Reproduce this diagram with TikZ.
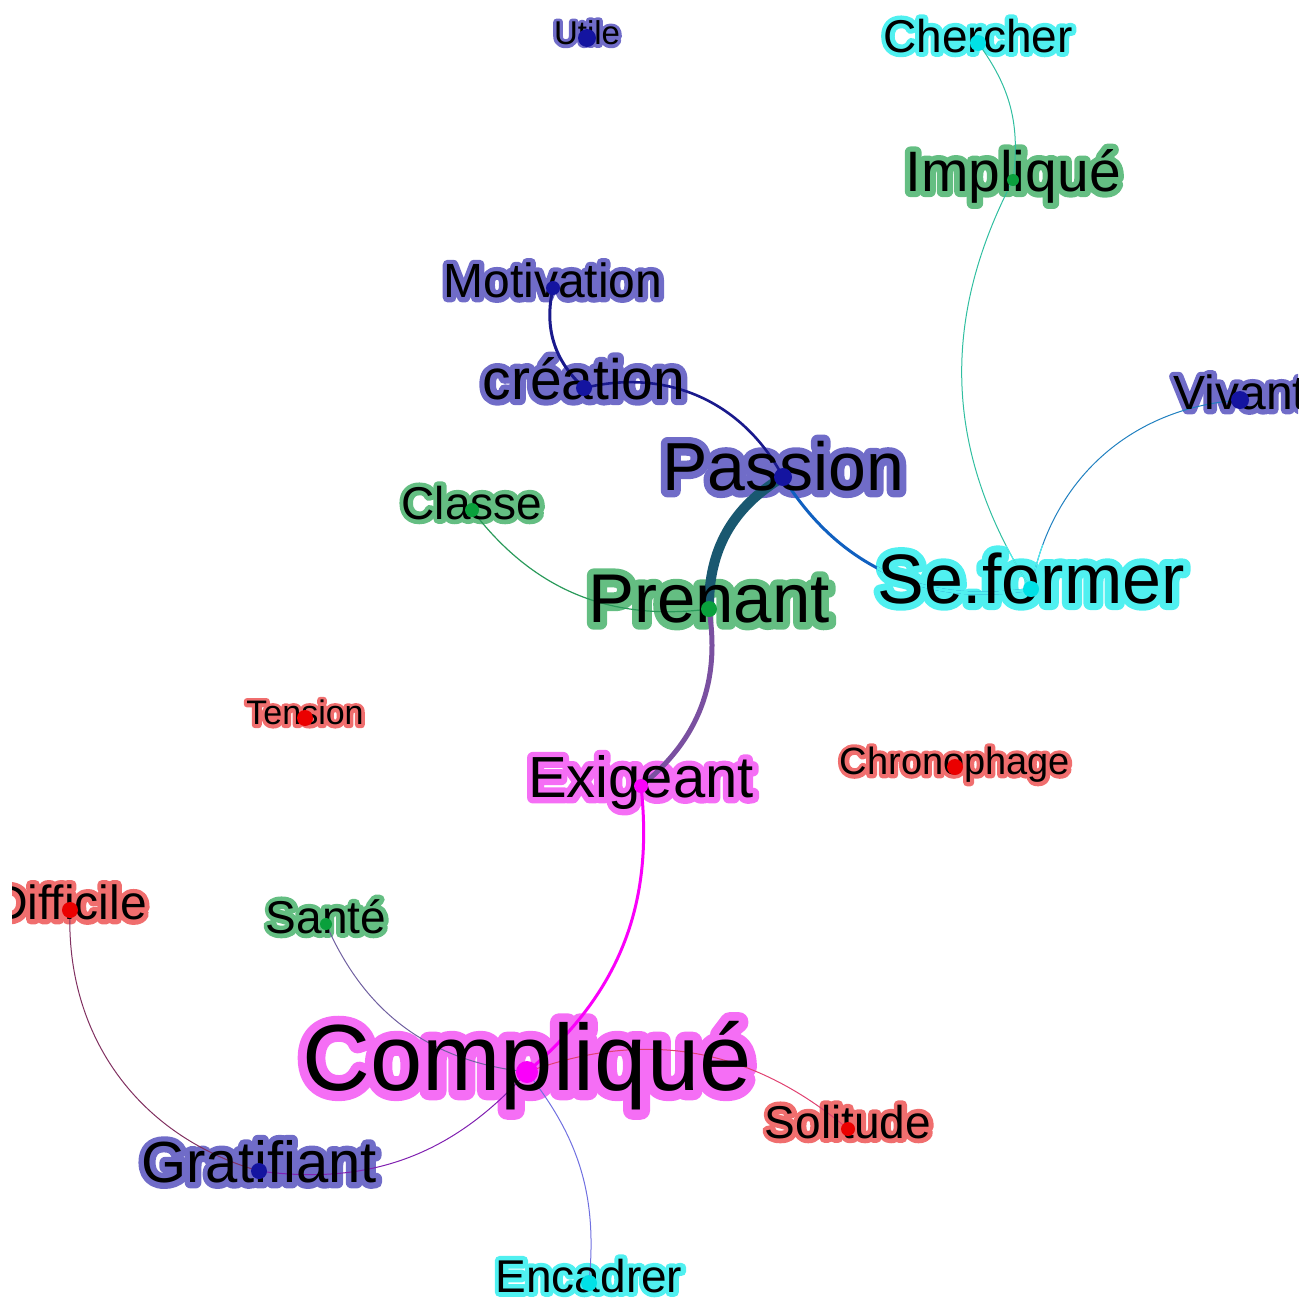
\documentclass[tikz,border=0pt]{standalone}
\usepackage{fontspec}
\setmainfont{Liberation Sans}
\newfontfamily\halofont[FakeBold=20]{Liberation Sans}
\usetikzlibrary{positioning}

\definecolor{bluhalo}{RGB}{112,108,200}
\definecolor{bludot}{RGB}{20,20,160}
\definecolor{grnhalo}{RGB}{100,190,130}
\definecolor{grndot}{RGB}{10,160,60}
\definecolor{cynhalo}{RGB}{80,240,240}
\definecolor{cyndot}{RGB}{0,225,230}
\definecolor{redhalo}{RGB}{240,110,110}
\definecolor{reddot}{RGB}{235,0,0}
\definecolor{maghalo}{RGB}{245,110,245}
\definecolor{magdot}{RGB}{250,0,250}

\definecolor{navyedge}{RGB}{25,25,140}
\definecolor{tealedge}{RGB}{25,88,112}
\definecolor{blueedge}{RGB}{16,96,192}
\definecolor{purpedge}{RGB}{122,80,160}
\definecolor{greenedge}{RGB}{42,154,90}
\definecolor{magedge}{RGB}{250,0,250}
\definecolor{aquaedge}{RGB}{48,190,160}
\definecolor{skyedge}{RGB}{32,128,192}
\definecolor{plumedge}{RGB}{112,96,160}
\definecolor{wineedge}{RGB}{128,48,96}
\definecolor{violedge}{RGB}{128,32,176}
\definecolor{roseedge}{RGB}{224,64,112}
\definecolor{lavedge}{RGB}{112,112,224}

\tikzset{
  word/.style={font=\fontsize{#1pt}{#1pt}\selectfont, inner sep=0pt, anchor=base, yshift=-0.2*#1pt},
  halo/.style={word=#1, font=\fontsize{#1pt}{#1pt}\halofont, line join=round},
  nodedot/.style={circle, inner sep=0pt, minimum size=#1pt},
  edgeline/.style={line width=#1pt, line cap=round},
}

% name/size/colour/dot/text
\def\wordlist{utile/16.5/blu/9/Utile, chercher/23/cyn/8/Chercher,
  implique/28.5/grn/6/Impliqué, motivation/24/blu/7/Motivation,
  creation/28.5/blu/8/création, vivant/24/blu/9/Vivant,
  passion/34/blu/9/Passion, classe/23/grn/7/Classe,
  seformer/35/cyn/8/Se.former, prenant/34.5/grn/8/Prenant,
  tension/17/red/8/Tension, exigeant/29/mag/7/Exigeant,
  chronophage/19/red/8/Chronophage, difficile/24/red/8/Difficile,
  sante/23/grn/6/Santé, complique/47/mag/11/Compliqué,
  solitude/23/red/7/Solitude, gratifiant/29/blu/8/Gratifiant,
  encadrer/23/cyn/8/Encadrer}

\begin{document}
\begin{tikzpicture}[x=0.5pt,y=-0.5pt]
  \useasboundingbox (0,0) rectangle (1311,1302);
  \clip (12,0) rectangle (1298,1302);

  \coordinate (utile) at (587,38);
  \coordinate (chercher) at (978,43);
  \coordinate (implique) at (1013,180);
  \coordinate (motivation) at (553,288);
  \coordinate (creation) at (584,388);
  \coordinate (vivant) at (1240,400);
  \coordinate (passion) at (783,477);
  \coordinate (classe) at (472,510);
  \coordinate (seformer) at (1031,589);
  \coordinate (prenant) at (709,609);
  \coordinate (tension) at (305,718);
  \coordinate (exigeant) at (641,786);
  \coordinate (chronophage) at (955,767);
  \coordinate (difficile) at (70,910);
  \coordinate (sante) at (326,924);
  \coordinate (complique) at (527,1072);
  \coordinate (solitude) at (848,1129);
  \coordinate (gratifiant) at (259,1171);
  \coordinate (encadrer) at (589,1283);

  % halos
  \foreach \nm/\sz/\cl/\dm/\tx in \wordlist
    \node[halo=\sz, text=\cl halo] (\nm-halo) at (\nm) {\special{pdf:literal direct 1 j 1 J}\tx};

  % links
  \draw[edgeline=1.5, navyedge] (motivation) to[bend right=30] (creation);
  \draw[edgeline=1.3, navyedge] (creation) to[bend left=38] (passion);
  \draw[edgeline=5, tealedge] (passion) to[bend right=30] (prenant);
  \draw[edgeline=1.5, blueedge] (passion) to[bend right=34] (seformer);
  \draw[edgeline=2.5, purpedge] (prenant) to[bend left=30] (exigeant);
  \draw[edgeline=0.6, greenedge] (classe) to[bend right=30] (prenant);
  \draw[edgeline=1.5, magedge] (exigeant) to[bend left=28] (complique);
  \draw[edgeline=0.5, aquaedge] (chercher) to[bend left=22] (implique);
  \draw[edgeline=0.5, aquaedge] (implique) to[bend right=30] (seformer);
  \draw[edgeline=0.5, skyedge] (vivant) to[bend right=38] (seformer);
  \draw[edgeline=0.5, plumedge] (sante) to[bend right=30] (complique);
  \draw[edgeline=0.5, wineedge] (difficile) to[bend right=38] (gratifiant);
  \draw[edgeline=0.5, violedge] (gratifiant) to[bend right=28] (complique);
  \draw[edgeline=0.5, roseedge] (complique) to[bend left=30] (solitude);
  \draw[edgeline=0.5, lavedge] (complique) to[bend left=22] (encadrer);

  % links fade into the cyan of Se.former
  \begin{scope}
    \clip ([yshift=-3pt]seformer-halo.south west) rectangle ([yshift=3pt]seformer-halo.north east);
    \draw[edgeline=1.5, cynhalo] (passion) to[bend right=34] (seformer);
    \draw[edgeline=0.5, cynhalo] (implique) to[bend right=30] (seformer);
    \draw[edgeline=0.5, cynhalo] (vivant) to[bend right=38] (seformer);
  \end{scope}

  % words and dots
  \foreach \nm/\sz/\cl/\dm/\tx in \wordlist {
    \node[word=\sz, text=black] (\nm-label) at (\nm) {\tx};
    \node[nodedot=\dm, fill=\cl dot] (\nm-dot) at (\nm) {};
  }
\end{tikzpicture}
\end{document}
